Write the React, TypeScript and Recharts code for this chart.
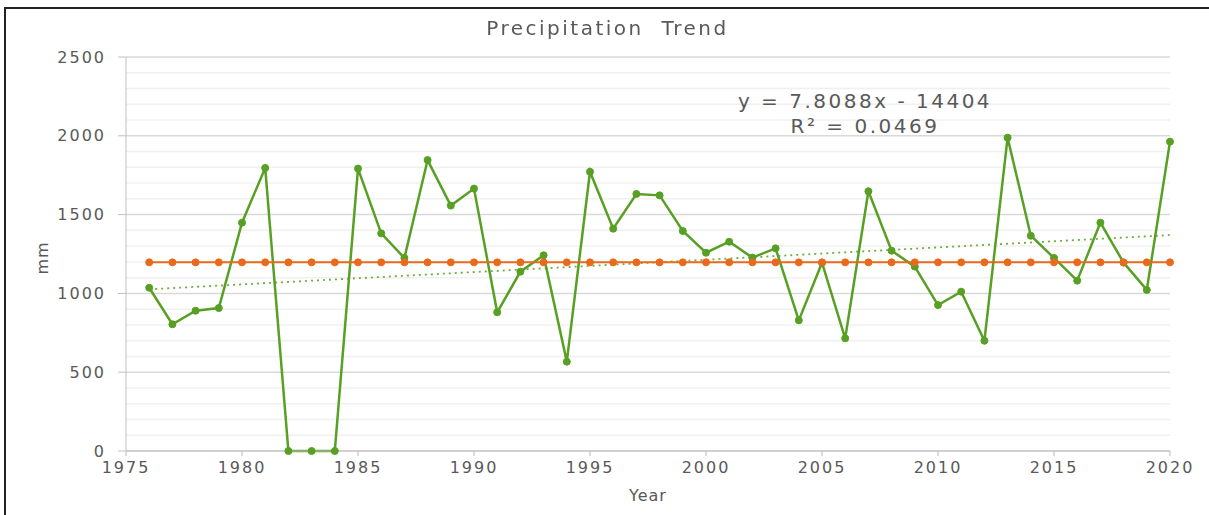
import React from 'react';
import { LineChart, Line, XAxis, YAxis, CartesianGrid, ReferenceLine } from 'recharts';

// years on the x axis
const years = [
  1976, 1977, 1978, 1979, 1980, 1981, 1982, 1983, 1984, 1985,
  1986, 1987, 1988, 1989, 1990, 1991, 1992, 1993, 1994, 1995,
  1996, 1997, 1998, 1999, 2000, 2001, 2002, 2003, 2004, 2005,
  2006, 2007, 2008, 2009, 2010, 2011, 2012, 2013, 2014, 2015,
  2016, 2017, 2018, 2019, 2020,
];

// annual precipitation (mm)
const precipitation = [
  1036, 804, 890, 907, 1449, 1796, 0, 0, 0, 1792,
  1381, 1225, 1846, 1557, 1665, 880, 1138, 1242, 567, 1772,
  1411, 1631, 1622, 1396, 1258, 1328, 1227, 1286, 829, 1195,
  715, 1648, 1271, 1170, 926, 1011, 700, 1988, 1366, 1225,
  1081, 1449, 1195, 1022, 1963,
];

// long-term mean line (mm)
const meanLine = [
  1197, 1197, 1197, 1197, 1197, 1197, 1197, 1197, 1197, 1197,
  1197, 1197, 1197, 1197, 1197, 1197, 1197, 1197, 1197, 1197,
  1197, 1197, 1197, 1197, 1197, 1197, 1197, 1197, 1197, 1197,
  1197, 1197, 1197, 1197, 1197, 1197, 1197, 1197, 1197, 1197,
  1197, 1197, 1197, 1197, 1197,
];

// linear trend end points (y = 7.8088x - 14404)
const trendStart = { x: 1976, y: 1026 };
const trendEnd = { x: 2020, y: 1370 };

const xTicks = [1975, 1980, 1985, 1990, 1995, 2000, 2005, 2010, 2015, 2020];
const yTicks = [0, 500, 1000, 1500, 2000, 2500];
const minorTicks = [
  100, 200, 300, 400, 600, 700, 800, 900, 1100, 1200, 1300, 1400,
  1600, 1700, 1800, 1900, 2100, 2200, 2300, 2400,
];

const data = years.map((year, i) => ({
  year,
  precipitation: precipitation[i],
  mean: meanLine[i],
}));

const FONT = '"DejaVu Sans", Verdana, sans-serif';
const TEXT = '#595959';
const GREEN = '#58a023';
const ORANGE = '#ea6a1c';

export default function App() {
  return (
    <div style={{ position: 'fixed', left: 0, top: 0, width: 1209, height: 515, background: '#fff', fontFamily: FONT }}>
      {/* frame */}
      <div style={{ position: 'absolute', left: 4, top: 7, width: 1205, height: 508, borderLeft: '2px solid #222', borderTop: '2px solid #222' }} />

      <LineChart
        width={1209}
        height={515}
        data={data}
        margin={{ top: 57, right: 39, bottom: 0, left: 0 }}
        style={{ position: 'absolute', left: 0, top: 0 }}
      >
        <CartesianGrid horizontalValues={minorTicks} vertical={false} stroke="#f0f0f0" strokeWidth={1.5} />
        <CartesianGrid horizontalValues={yTicks} vertical={false} stroke="#d9d9d9" strokeWidth={1.5} />
        <XAxis
          dataKey="year"
          type="number"
          domain={[1975, 2020]}
          ticks={xTicks}
          interval={0}
          height={64}
          tickSize={5}
          tickMargin={6}
          stroke="#bfbfbf"
          tick={{ fill: TEXT, fontSize: 16, fontFamily: FONT, letterSpacing: 2 }}
          label={{ value: 'Year', position: 'insideBottom', offset: 14, fill: TEXT, fontSize: 16, fontFamily: FONT, letterSpacing: 1 }}
        />
        <YAxis
          type="number"
          domain={[0, 2500]}
          ticks={yTicks}
          interval={0}
          width={126}
          tickSize={8}
          tickMargin={12}
          stroke="#bfbfbf"
          tick={{ fill: TEXT, fontSize: 16, fontFamily: FONT, letterSpacing: 2 }}
          label={{ value: 'mm', angle: -90, position: 'center', dx: -21, dy: 4, fill: TEXT, fontSize: 16, fontFamily: FONT, letterSpacing: 1 }}
        />
        <ReferenceLine
          segment={[trendStart, trendEnd]}
          stroke="#6fae3a"
          strokeWidth={1.8}
          strokeDasharray="2 4"
          ifOverflow="visible"
        />
        <Line
          dataKey="precipitation"
          stroke={GREEN}
          strokeWidth={2.5}
          dot={{ r: 3.5, fill: GREEN, stroke: GREEN, strokeWidth: 1 }}
          isAnimationActive={false}
        />
        <Line
          dataKey="mean"
          stroke={ORANGE}
          strokeWidth={2}
          dot={{ r: 3.5, fill: ORANGE, stroke: ORANGE, strokeWidth: 1 }}
          isAnimationActive={false}
        />
      </LineChart>

      <div style={{ position: 'absolute', left: 0, width: 1215, top: 16, textAlign: 'center', fontSize: 20, letterSpacing: 2.5, color: TEXT, whiteSpace: 'pre' }}>
        {'Precipitation  Trend'}
      </div>
      <div style={{ position: 'absolute', left: 665, width: 400, top: 89, textAlign: 'center', fontSize: 20, letterSpacing: 2.5, color: TEXT, lineHeight: '25px' }}>
        <div>y = 7.8088x - 14404</div>
        <div>R² = 0.0469</div>
      </div>
    </div>
  );
}
